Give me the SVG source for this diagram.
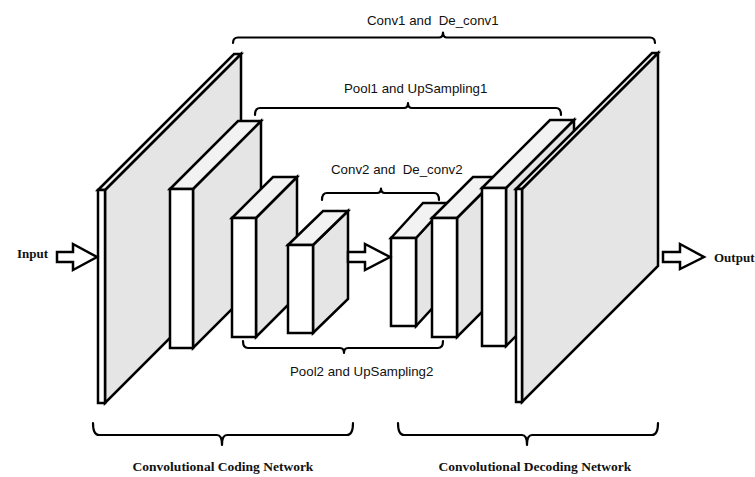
<svg xmlns="http://www.w3.org/2000/svg" width="755" height="477" viewBox="0 0 755 477">
<style>
.f{fill:#ffffff;stroke:#000;stroke-width:2.5;stroke-linejoin:miter}
.s{fill:#e5e5e5;stroke:#000;stroke-width:2.5;stroke-linejoin:miter}
.t{fill:#f2f2f2;stroke:#000;stroke-width:2.5;stroke-linejoin:miter}
.br{fill:none;stroke:#000;stroke-width:2.2;stroke-linejoin:round;stroke-linecap:round}
.ar{fill:#ffffff;stroke:#000;stroke-width:2.5;stroke-linejoin:miter}
.lbl{font-family:"Liberation Sans",Arial,sans-serif;font-size:13.3px;fill:#111}
.bl{font-family:"Liberation Serif","Times New Roman",serif;font-weight:bold;font-size:13px;fill:#111}
.bb{font-family:"Liberation Serif","Times New Roman",serif;font-weight:bold;font-size:13.5px;fill:#111}
</style>
<rect width="755" height="477" fill="#ffffff"/>
<g id="block1">
<polygon class="s" points="105,190 241,54 241,267 105,403"/>
<polygon class="t" points="98,190 234,54 241,54 105,190"/>
<rect class="f" x="98" y="190" width="7" height="213"/>
</g>
<g id="block2">
<polygon class="s" points="193,189 261,121 261,280 193,348"/>
<polygon class="t" points="170,189 238,121 261,121 193,189"/>
<rect class="f" x="170" y="189" width="23" height="159"/>
</g>
<g id="block3">
<polygon class="s" points="256,218 297,177 297,296 256,337"/>
<polygon class="t" points="232,218 273,177 297,177 256,218"/>
<rect class="f" x="232" y="218" width="24" height="119"/>
</g>
<g id="block4">
<polygon class="s" points="313,245 348,211 348,299 313,333"/>
<polygon class="t" points="288,245 323,211 348,211 313,245"/>
<rect class="f" x="288" y="245" width="25" height="88"/>
</g>
<g id="block5">
<polygon class="s" points="416,238 448,203 448,291 416,326"/>
<polygon class="t" points="391,238 423,203 448,203 416,238"/>
<rect class="f" x="391" y="238" width="25" height="88"/>
</g>
<g id="block6">
<polygon class="s" points="457,218 498,177 498,296 457,337"/>
<polygon class="t" points="432,218 473,177 498,177 457,218"/>
<rect class="f" x="432" y="218" width="25" height="119"/>
</g>
<g id="block7">
<polygon class="s" points="506,188 574,120 574,278 506,346"/>
<polygon class="t" points="482,188 550,120 574,120 506,188"/>
<rect class="f" x="482" y="188" width="24" height="158"/>
</g>
<g id="block8">
<polygon class="s" points="522,189 658,53 658,266 522,402"/>
<polygon class="t" points="516,189 652,53 658,53 522,189"/>
<rect class="f" x="516" y="189" width="6" height="213"/>
</g>
<g id="connectors">
<polygon class="ar" points="57,252 73,252 73,244 97,257 73,270 73,262 57,262"/>
<polygon class="ar" points="348,252 365,252 365,244 390,257 365,270 365,262 348,262"/>
<polygon class="ar" points="663,252 680,252 680,244 704,257 680,269 680,262 663,262"/>
</g>
<g id="braces">
<path class="br" d="M233,43 Q233,37.5 238,37.5 L439,37.5 Q443,37.5 443,32.5 Q443,37.5 447,37.5 L650,37.5 Q655,37.5 655,43"/>
<path class="br" d="M255,115 Q255,108 260,108 L404,108 Q408,108 408,103 Q408,108 412,108 L556,108 Q561,108 561,115"/>
<path class="br" d="M322,200 Q322,193 327,193 L377,193 Q381,193 381,188.5 Q381,193 385,193 L434,193 Q439,193 439,200"/>
<path class="br" d="M243,341 Q243,348 248,348 L340,348 Q344,348 344,353 Q344,348 348,348 L438,348 Q443,348 443,341"/>
<path class="br" d="M93,423 Q93,435 99,435 L217,435 Q222,435 222,445 Q222,435 227,435 L347,435 Q353,435 353,423"/>
<path class="br" d="M398,423 Q398,435 404,435 L522,435 Q527,435 527,445 Q527,435 532,435 L652,435 Q658,435 658,423"/>
</g>
<g id="labels">
<text class="lbl" x="367" y="25" xml:space="preserve">Conv1 and  De_conv1</text>
<text class="lbl" x="344" y="93">Pool1 and UpSampling1</text>
<text class="lbl" x="331" y="174" xml:space="preserve">Conv2 and  De_conv2</text>
<text class="lbl" x="290" y="376">Pool2 and UpSampling2</text>
<text class="bl" x="17" y="258">Input</text>
<text class="bl" x="714" y="262">Output</text>
<text class="bb" x="223" y="471" text-anchor="middle">Convolutional Coding Network</text>
<text class="bb" x="535" y="471" text-anchor="middle">Convolutional Decoding Network</text>
</g>
</svg>
